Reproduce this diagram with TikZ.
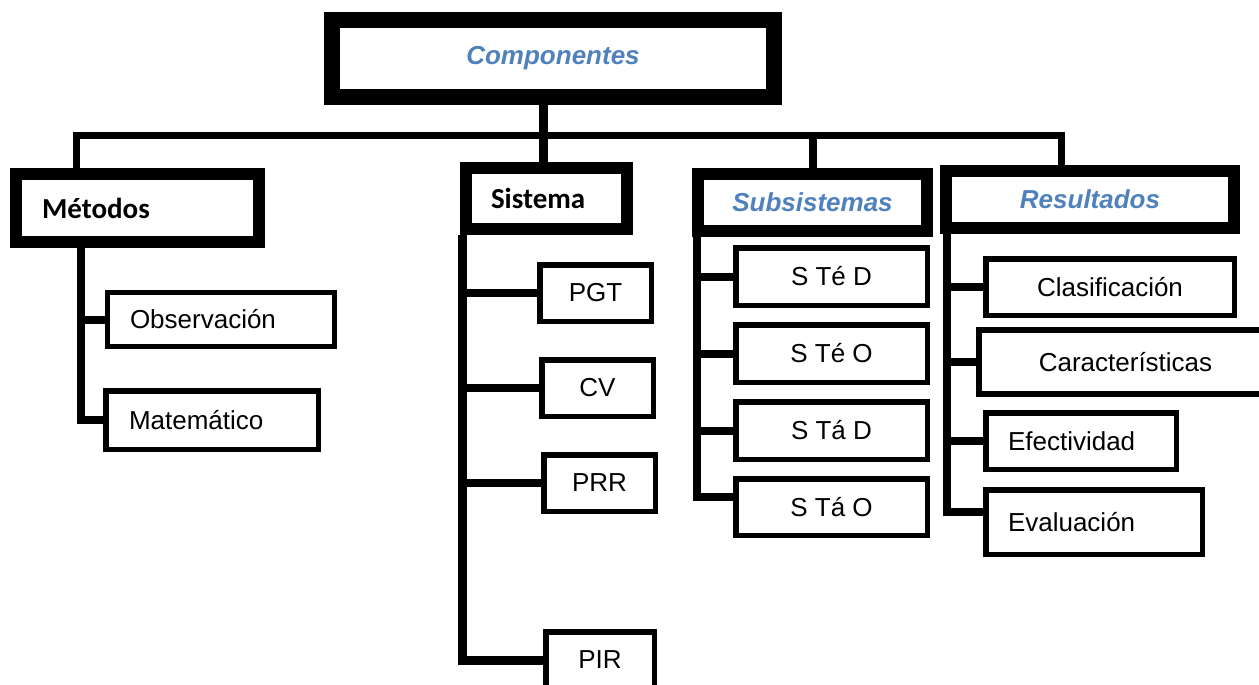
\documentclass[tikz,border=0pt]{standalone}
\usepackage{fontspec}
\setmainfont{Liberation Sans}
\newfontfamily\calibri{Carlito}
\usepackage{tikz}
\definecolor{compblue}{RGB}{79,129,189}

\tikzset{
  mainbox/.style={draw, line width=16pt, inner sep=0pt, text=compblue,
    font=\fontsize{26}{31}\selectfont\bfseries\itshape},
  groupbox/.style={draw, line width=12pt, inner sep=0pt},
  bluetitle/.style={text=compblue, font=\fontsize{26}{31}\selectfont\bfseries\itshape},
  blacktitle/.style={align=left, font=\calibri\fontsize{29}{34}\selectfont\bfseries},
  leafbox/.style={draw, line width=5.5pt, inner sep=0pt, font=\fontsize{26}{31}\selectfont},
  conn/.style={line width=8pt, line join=miter},
}

\begin{document}
\begin{tikzpicture}[x=1pt, y=-1pt]
  \useasboundingbox (0,0) rectangle (1259,685);
  \clip (0,0) rectangle (1259,685);

  % cabecera
  \node[mainbox, minimum width=442pt, minimum height=77pt] (componentes) at (553,58.5) {Componentes};

  % primer nivel
  \node[groupbox, blacktitle, minimum width=243pt, minimum height=68pt,
        text width=191pt, inner xsep=26pt] (metodos) at (137.5,208) {Métodos};
  \node[groupbox, blacktitle, minimum width=161pt, minimum height=61pt,
        text width=111pt, inner xsep=25pt] (sistema) at (546.5,198.5) {Sistema};
  \node[groupbox, bluetitle, minimum width=229pt, minimum height=57pt] (subsistemas) at (812.5,202.5) {Subsistemas};
  \node[groupbox, bluetitle, minimum width=288pt, minimum height=57pt] (resultados) at (1090,199.5) {Resultados};

  % metodos
  \node[leafbox, align=left, minimum width=227pt, minimum height=54pt,
        text width=182pt, inner xsep=22.5pt] (observacion) at (221,319.5) {Observación};
  \node[leafbox, align=left, minimum width=212.5pt, minimum height=58.5pt,
        text width=166pt, inner xsep=23.25pt] (matematico) at (212,420) {Matemático};

  % sistema
  \node[leafbox, minimum width=111.5pt, minimum height=56.5pt] (pgt) at (595.5,293) {PGT};
  \node[leafbox, minimum width=111.5pt, minimum height=56.5pt] (cv) at (597.5,388) {CV};
  \node[leafbox, minimum width=111.5pt, minimum height=56.5pt] (prr) at (599.5,483) {PRR};
  \node[leafbox, minimum width=108.5pt, minimum height=56.5pt] (pir) at (600,660) {PIR};

  % subsistemas
  \node[leafbox, minimum width=191.5pt, minimum height=57.5pt] (sted) at (831.5,276.5) {S Té D};
  \node[leafbox, minimum width=191.5pt, minimum height=57.5pt] (steo) at (831.5,353.5) {S Té O};
  \node[leafbox, minimum width=191.5pt, minimum height=57.5pt] (stad) at (831.5,430.5) {S Tá D};
  \node[leafbox, minimum width=191.5pt, minimum height=56.5pt] (stao) at (831.5,507) {S Tá O};

  % resultados
  \node[leafbox, minimum width=248.5pt, minimum height=56.5pt] (clasificacion) at (1110,287) {Clasificación};
  \node[leafbox, line width=6pt, minimum width=293pt, minimum height=64pt] (caracteristicas) at (1125.5,362) {Características};
  \node[leafbox, align=left, minimum width=190.5pt, minimum height=56.5pt,
        text width=146pt, inner xsep=22.25pt] (efectividad) at (1081,441) {Efectividad};
  \node[leafbox, align=left, minimum width=216.5pt, minimum height=64.5pt,
        text width=172pt, inner xsep=22.25pt] (evaluacion) at (1094,522) {Evaluación};

  % barra principal
  \coordinate (barL) at (76.5,135.5);
  \coordinate (barR) at (1061.5,135.5);
  \draw[conn, line width=7pt] (metodos.north -| barL) -- (barL) -- (barR) -- (resultados.north -| barR);
  \draw[conn] (barL -| subsistemas.north) -- (subsistemas.north);
  \draw[conn, line width=9pt] ([xshift=-9.5pt]componentes.south) -- ([xshift=-9.5pt]componentes.south |- sistema.north);

  % ramas
  \coordinate (mtrunk) at ([xshift=71pt]metodos.south west);
  \draw[conn] (mtrunk) |- (matematico.west);
  \draw[conn] (observacion.west) -- (observacion.west -| mtrunk);

  \coordinate (strunk) at ([xshift=2.5pt]sistema.south west);
  \draw[conn, line width=9pt] (strunk) |- (pir.west);
  \foreach \n in {pgt, cv, prr}
    \draw[conn] (\n.west) -- (\n.west -| strunk);

  \coordinate (btrunk) at ([xshift=5pt]subsistemas.south west);
  \draw[conn] (btrunk) |- ([yshift=10pt]stao.west);
  \foreach \n in {sted, steo, stad}
    \draw[conn] (\n.west) -- (\n.west -| btrunk);

  \coordinate (rtrunk) at ([xshift=6.5pt]resultados.south west);
  \draw[conn] (rtrunk) |- ([yshift=10pt]evaluacion.west);
  \foreach \n in {clasificacion, caracteristicas, efectividad}
    \draw[conn] (\n.west) -- (\n.west -| rtrunk);
\end{tikzpicture}
\end{document}
